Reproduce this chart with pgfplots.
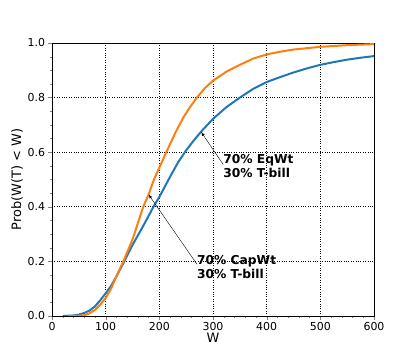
\documentclass[border=0pt]{standalone}
\usepackage{pgfplots}
\pgfplotsset{compat=1.18}
\usepackage{fontspec}
\setmainfont{DejaVu Sans}
\definecolor{tabblue}{HTML}{1F77B4}
\definecolor{taborange}{HTML}{FF7F0E}
\begin{document}
\begin{tikzpicture}
\useasboundingbox (-52bp,-40bp) rectangle (363bp,316bp);
\begin{axis}[
  at={(0,0)}, anchor=south west,
  scale only axis, width=322bp, height=273bp,
  xmin=0, xmax=600, ymin=0, ymax=1,
  xtick={0,100,...,600}, ytick={0,0.2,...,1.0},
  minor x tick num=4, minor y tick num=3,
  yticklabel style={/pgf/number format/.cd, fixed, fixed zerofill, precision=1},
  /pgf/number format/assume math mode=true,
  ticklabel style={font=\fontsize{11}{13}\selectfont},
  xticklabel style={yshift=1bp},
  tick align=outside, tick pos=left,
  major tick length=3.5bp, minor tick length=2bp,
  grid=major, major grid style={black, dotted, line width=0.6pt},
  axis line style={black, line width=0.6pt},
  xlabel={W}, ylabel={Prob(W(T) < W)},
  label style={font=\fontsize{13}{15}\selectfont},
  xlabel style={yshift=4bp},
  ylabel style={yshift=-2bp},
]
\addplot[tabblue, line width=2pt] coordinates {
 (20,0) (40,0.002) (50,0.005) (60,0.011) (70,0.02) (80,0.035) (90,0.058) (100,0.083)
 (110,0.11) (120,0.145) (136,0.205) (150,0.26) (170,0.33) (189,0.4) (200,0.436)
 (220,0.51) (235,0.563) (250,0.607) (265,0.645) (280,0.68) (300,0.722) (325,0.765) (350,0.8)
 (375,0.832) (400,0.857) (425,0.875) (450,0.892) (475,0.907) (500,0.92) (525,0.93)
 (550,0.939) (575,0.946) (600,0.952)
};
\addplot[taborange, line width=2pt] coordinates {
 (30,0) (50,0.001) (60,0.003) (70,0.01) (80,0.022) (90,0.042) (100,0.066)
 (110,0.1) (120,0.145) (134,0.205) (150,0.28) (170,0.4) (180,0.445) (190,0.5) (213,0.6)
 (230,0.672) (245,0.728) (257,0.765) (270,0.8) (285,0.835) (300,0.862) (325,0.895)
 (350,0.92) (375,0.943) (400,0.958) (425,0.968) (450,0.976) (475,0.981) (500,0.986)
 (550,0.992) (600,0.996)
};
\draw[-latex, thin] (axis cs:319,0.555) -- (axis cs:278,0.674);
\draw[-latex, thin] (axis cs:270,0.19) -- (axis cs:180,0.445);
\node[anchor=north west, align=left, font=\bfseries\fontsize{12.3}{14}\selectfont, inner sep=0pt]
  at (axis cs:319,0.592) {70\% EqWt\\30\% T-bill};
\node[anchor=north west, align=left, font=\bfseries\fontsize{12.3}{14}\selectfont, inner sep=0pt]
  at (axis cs:270,0.222) {70\% CapWt\\30\% T-bill};
\end{axis}
\end{tikzpicture}
\end{document}
